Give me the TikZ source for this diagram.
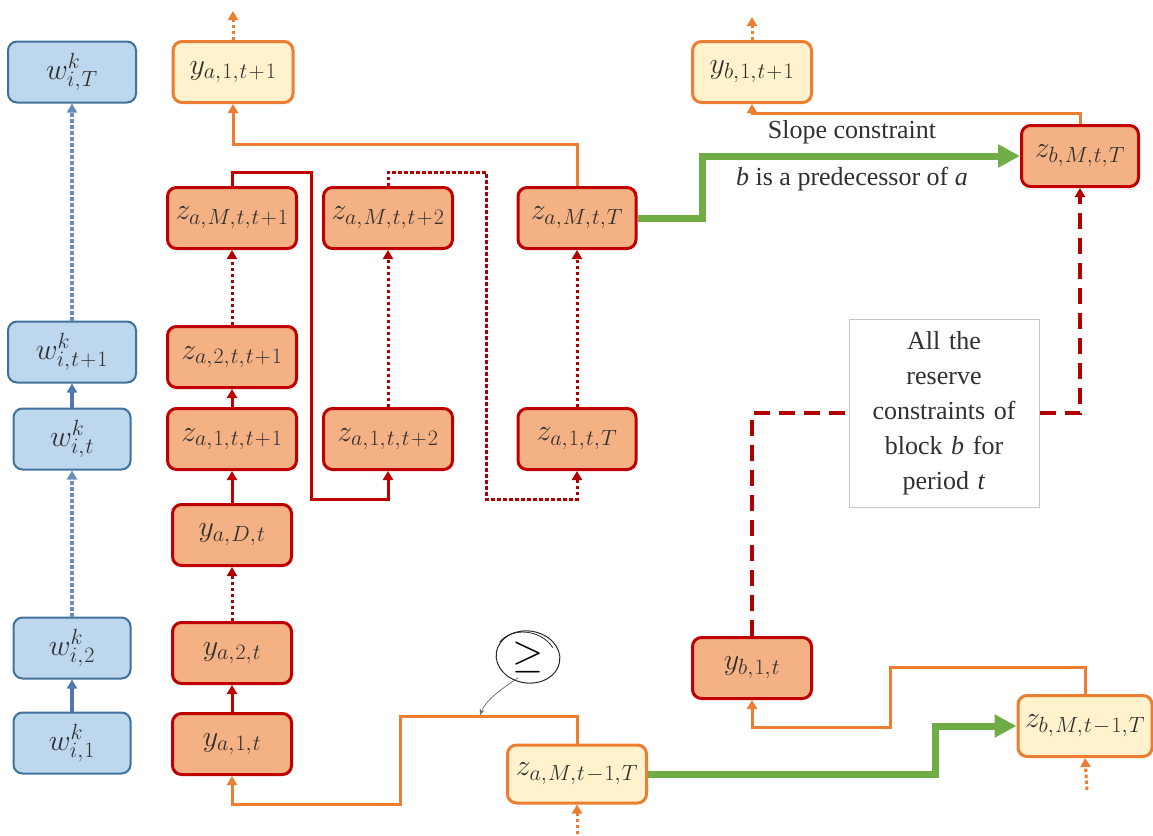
\RequirePackage{fix-cm}
\documentclass[tikz,border=0pt]{standalone}
\usepackage{fontspec}
\setmainfont{Liberation Serif}
\newfontfamily\labelserif{Liberation Serif}
\usetikzlibrary{arrows.meta,shapes.geometric}

\definecolor{bluefill}{HTML}{BDD7EE}
\definecolor{bluedraw}{HTML}{41719C}
\definecolor{bluelink}{HTML}{4F79A8}
\definecolor{redfill}{HTML}{F4B183}
\definecolor{reddraw}{HTML}{C00000}
\definecolor{redlink}{HTML}{B00000}
\definecolor{yelfill}{HTML}{FFF2CC}
\definecolor{orgdraw}{HTML}{ED7D31}
\definecolor{grnlink}{HTML}{70AD47}
\definecolor{txt}{HTML}{303030}

% variable names with large, tightly set indices
\newcommand\idxfont{\fontsize{22}{22}\selectfont\thinmuskip=1mu\medmuskip=1mu}
\newcommand\lowidx[1]{_{\hbox{\idxfont$#1$}}}
\newcommand\upidx[1]{^{\hbox{\idxfont$#1$}}}
\newcommand\boxfont{\fontsize{30}{32}\selectfont\color{txt}}
\newcommand\labfont{\labelserif\fontsize{26}{35}\selectfont\color{txt}}

\tikzset{
  varbox/.style={rounded corners=9pt, minimum height=61pt, inner sep=0pt,
                 font=\boxfont},
  bluebox/.style={varbox, fill=bluefill, draw=bluedraw, line width=2pt},
  redbox/.style={varbox, fill=redfill, draw=reddraw, line width=3pt},
  yelbox/.style={varbox, fill=yelfill, draw=orgdraw, line width=3pt},
  tip/.style={-{Triangle[width=10pt,length=9pt]}},
  dotline/.style={dash pattern=on 3.5pt off 2.5pt},
  blink/.style={tip, draw=bluelink, line width=3.5pt},
  bdot/.style={blink, dotline, draw=bluelink!85!white},
  rlink/.style={tip, draw=reddraw, line width=3pt},
  rdot/.style={rlink, dotline, draw=redlink},
  rdash/.style={draw=redlink, line width=3.5pt, dash pattern=on 16pt off 9pt},
  olink/.style={tip, draw=orgdraw, line width=3pt},
  odot/.style={olink, dotline},
  glink/.style={draw=grnlink, line width=7pt,
                -{Triangle[width=22pt,length=22pt]}},
}

\begin{document}
\begin{tikzpicture}[x=1pt, y=-1pt, line join=miter]
\useasboundingbox (0,0) rectangle (1153,835);

% ---- w column
\node[bluebox, minimum width=128pt] (wT)  at (72,72)  {$w\upidx{k}\lowidx{i,T}$};
\node[bluebox, minimum width=128pt] (wt1) at (72,352) {$w\upidx{k}\lowidx{i,t+1}$};
\node[bluebox, minimum width=117pt] (wt)  at (72,439) {$w\upidx{k}\lowidx{i,t}$};
\node[bluebox, minimum width=117pt] (w2)  at (72,648) {$w\upidx{k}\lowidx{i,2}$};
\node[bluebox, minimum width=117pt] (w1)  at (72,743) {$w\upidx{k}\lowidx{i,1}$};

\draw[blink] (w1) -- (w2);
\draw[bdot]  (w2) -- (wt);
\draw[blink] (wt) -- (wt1);
\draw[bdot]  (wt1) -- (wT);

% ---- block a, period t
\node[yelbox, minimum width=120pt] (ya1n) at (233,72)  {$y\lowidx{a,1,t+1}$};
\node[redbox, minimum width=129pt] (zaMn) at (232,218) {$z\lowidx{a,M,t,t+1}$};
\node[redbox, minimum width=129pt] (za2n) at (232,357) {$z\lowidx{a,2,t,t+1}$};
\node[redbox, minimum width=129pt] (za1n) at (232,439) {$z\lowidx{a,1,t,t+1}$};
\node[redbox, minimum width=119pt] (yaD)  at (232,535) {$y\lowidx{a,D,t}$};
\node[redbox, minimum width=119pt] (ya2)  at (232,653) {$y\lowidx{a,2,t}$};
\node[redbox, minimum width=119pt] (ya1)  at (232,744) {$y\lowidx{a,1,t}$};

\node[redbox, minimum width=129pt] (zaMm) at (388,218) {$z\lowidx{a,M,t,t+2}$};
\node[redbox, minimum width=129pt] (za1m) at (388,439) {$z\lowidx{a,1,t,t+2}$};

\node[redbox, minimum width=118pt] (zaMT) at (577,218) {$z\lowidx{a,M,t,T}$};
\node[redbox, minimum width=118pt] (za1T) at (577,439) {$z\lowidx{a,1,t,T}$};

\draw[rlink] (ya1) -- (ya2);
\draw[rdot]  (ya2) -- (yaD);
\draw[rlink] (yaD) -- (za1n);
\draw[rlink] (za1n) -- (za2n);
\draw[rdot]  (za2n) -- (zaMn);
\draw[rdot]  (za1m) -- (zaMm);
\draw[rdot]  (za1T) -- (zaMT);

\draw[rlink] (zaMn.north) -- (zaMn.north |- 0,172) -- (311,172)
   -- (311,499) -- (za1m.south |- 0,499) -- (za1m.south);
\draw[rdot] (zaMm.north) -- (zaMm.north |- 0,172) -- (486,172)
   -- (486,499) -- (za1T.south |- 0,499) -- (za1T.south);

\draw[olink] (zaMT.north) -- (zaMT.north |- 0,144)
   -- (ya1n.south |- 0,144) -- (ya1n.south);

\coordinate (ya1top) at (233,11);
\draw[odot] (ya1n.north) -- (ya1top);

% ---- block b
\node[yelbox, minimum width=119pt] (yb1n) at (752,72)  {$y\lowidx{b,1,t+1}$};
\node[redbox, minimum width=117pt] (zbMT) at (1080,156) {$z\lowidx{b,M,t,T}$};

\coordinate (yb1top) at (752,17);
\draw[odot] (yb1n.north) -- (yb1top);

\draw[olink] (zbMT.north) -- (zbMT.north |- 0,113)
   -- (yb1n.south |- 0,113) -- (yb1n.south);

\draw[glink] (zaMT.east) -- (702,218) |- (zbMT.west);

\node[font=\labfont] (slope) at (852,132) {Slope constraint};
\node[font=\labfont] (pred)  at (852,179) {\textit{b} is a predecessor of \textit{a}};

\node[draw=gray!45, line width=1pt, fill=white, minimum width=190pt,
      minimum height=188pt, text width=180pt, align=center, inner sep=0pt,
      font=\labfont] (note) at (944,413)
      {All the\\ reserve\\ constraints of\\ block \textit{b} for\\ period \textit{t}};

\node[redbox, minimum width=119pt] (yb1) at (752,668) {$y\lowidx{b,1,t}$};

\draw[rdash] (yb1.north) |- (note.west);
\draw[rdash, -{Triangle[width=10pt,length=9pt]}] (note.east) -| (zbMT.south);

% ---- period t-1
\node[yelbox, minimum width=139pt, minimum height=58pt] (zaMp) at (577,774) {$z\lowidx{a,M,t-1,T}$};
\node[yelbox, minimum width=134pt] (zbMp) at (1085,726) {$z\lowidx{b,M,t-1,T}$};

\coordinate (zaMpsrc) at (577,834);
\coordinate (zbMpsrc) at (1087,790);
\draw[odot] (zaMpsrc) -- (zaMp.south);
\draw[odot] (zbMpsrc) -- (zbMp.south);

\draw[olink] (zaMp.north) -- (zaMp.north |- 0,716) -- (400,716)
   -- (400,804) -- (ya1.south |- 0,804) -- (ya1.south);
\draw[olink] (zbMp.north) -- (zbMp.north |- 0,667) -- (890,667)
   -- (890,727) -- (yb1.south |- 0,727) -- (yb1.south);

\draw[glink] (zaMp.east) -- (935,774) |- (zbMp.west);

% ---- hand-drawn "greater or equal" mark
\node[ellipse, minimum width=62pt, minimum height=50pt, inner sep=0pt,
      font=\fontsize{40}{40}\selectfont] (ge) at (528,657) {$\geq$};
\draw[black!85, line width=1pt, rotate around={-8:(ge.center)}]
  (ge.center) ellipse [x radius=32pt, y radius=26pt];
\draw[black!85, line width=0.8pt, rotate around={-14:(ge.center)}]
  ([xshift=-2pt,yshift=-3pt]ge.center) ++(160:31pt)
  arc [start angle=160, end angle=40, x radius=31pt, y radius=25pt];
\coordinate (gehit) at (480,715);
\draw[black!60, line width=0.7pt, -{Stealth[length=6pt,width=5pt]}]
  (ge.south west) ++(12pt,-3pt) .. controls (500,690) and (486,700) .. (gehit);
\end{tikzpicture}
\end{document}
